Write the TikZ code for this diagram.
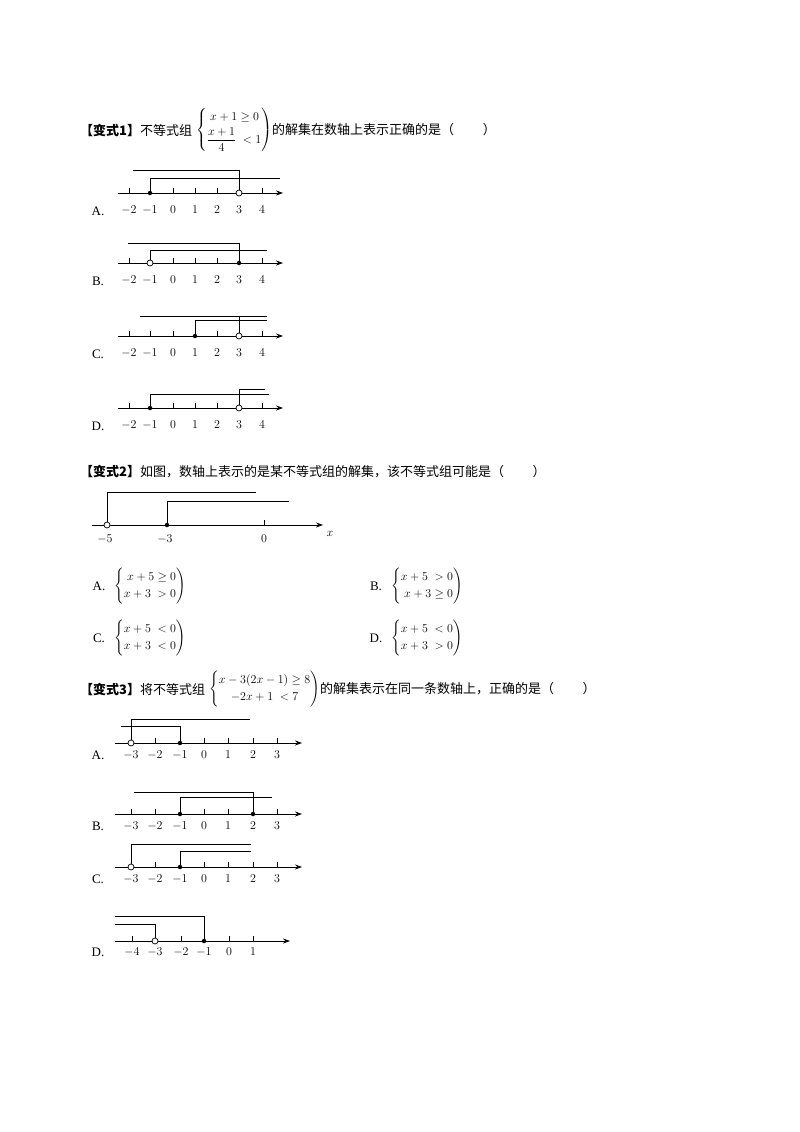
\documentclass[tikz,border=0pt]{standalone}
\usepackage{amsmath}
\usepackage{fontspec}
\usetikzlibrary{arrows.meta}
\setmainfont{Liberation Serif}
\newfontfamily\cjk{Noto Sans CJK SC}
\begin{document}
\begin{tikzpicture}[x=1pt,y=-1pt,font=\fontsize{13}{16}\selectfont,
  txt/.style={anchor=west,inner sep=0pt},
  lab/.style={inner sep=0pt},
  axisline/.style={line width=0.8pt,-{Stealth[length=7pt,width=5pt]}},
  seg/.style={line width=0.7pt},
  fdot/.style={circle,fill=black,inner sep=0pt,minimum size=4.5pt},
  odot/.style={circle,draw=black,fill=white,line width=0.7pt,inner sep=0pt,minimum size=6pt}]
\useasboundingbox[fill=white] (0,0) rectangle (800,1132);
% ---------- variant 1 ----------
\node[txt] (t1) at (80,130) {{\cjk\bfseries【变式1】}{\cjk 不等式组}};
\node[txt] (s1) at (196,130) {$\left\{\renewcommand{\arraystretch}{1.1}\begin{array}{@{}l@{}}\;x+1\geq 0\\[2pt] \dfrac{x+1}{4}\;<1\end{array}\right)$};
\node[txt] (t1b) at (s1.east) {\cjk 的解集在数轴上表示正确的是（\hspace{2.2em}）};
% number lines for variant 1
\newcommand{\nlA}[2]{% #1 axis y, #2 letter
  \node[lab] (L#2) at (98,#1+18) {#2.};
  \coordinate (a#2s) at (118,#1); \coordinate (a#2e) at (283,#1);
  \draw[axisline] (a#2s) -- (a#2e);
  \foreach \xx/\lb in {129/-2,150/-1,173/0,195/1,217/2,239/3,262/4}{
    \draw[line width=0.6pt] (\xx,#1) -- (\xx,#1-5);
    \node[lab] at (\xx,#1+17) {$\lb$};}
}
\nlA{193}{A}
\draw[seg] (239,193) -- (239,170) -- (133,170);
\draw[seg] (150,193) -- (150,178) -- (280,178);
\node[fdot] (A1) at (150,193) {}; \node[odot] (A3) at (239,193) {};
\nlA{263}{B}
\draw[seg] (239,263) -- (239,243) -- (128,243);
\draw[seg] (150,263) -- (150,250) -- (267,250);
\node[odot] (B1) at (150,263) {}; \node[fdot] (B3) at (239,263) {};
\nlA{336}{C}
\draw[seg] (140,316) -- (267,316);
\draw[seg] (195,336) -- (195,320) -- (267,320);
\draw[seg] (239,336) -- (239,316);
\node[fdot] (C1) at (195,336) {}; \node[odot] (C3) at (239,336) {};
\nlA{408}{D}
\draw[seg] (150,408) -- (150,394) -- (269,394);
\draw[seg] (239,408) -- (239,389) -- (265,389);
\node[fdot] (D1) at (150,408) {}; \node[odot] (D3) at (239,408) {};
% ---------- variant 2 ----------
\node[txt] (t2) at (80,472) {{\cjk\bfseries【变式2】}{\cjk 如图，数轴上表示的是某不等式组的解集，该不等式组可能是（\hspace{2.2em}）}};
\coordinate (v2s) at (92,525); \coordinate (v2e) at (323,525);
\draw[axisline] (v2s) -- (v2e);
\node[lab] (xl) at (330,534) {$x$};
\draw[line width=0.6pt] (264,525) -- (264,520);
\draw[seg] (107,525) -- (107,492) -- (256,492);
\draw[seg] (167,525) -- (167,501) -- (289,501);
\node[odot] (m5) at (107,525) {}; \node[fdot] (m3) at (167,525) {};
\node[lab] at (105,539) {$-5$}; \node[lab] at (165,539) {$-3$}; \node[lab] at (264,539) {$0$};
\newcommand{\sys}[2]{$\left\{\renewcommand{\arraystretch}{1.05}\begin{array}{@{}l@{}}#1\\#2\end{array}\right)$}
\node[lab] (oA) at (99,586) {A.};
\node[txt] (sA) at (114,586) {\sys{\;x+5\geq 0}{x+3\;>0}};
\node[lab] (oB) at (376,586) {B.};
\node[txt] (sB) at (391,586) {\sys{x+5\;>0}{\;x+3\geq 0}};
\node[lab] (oC) at (99,638) {C.};
\node[txt] (sC) at (114,638) {\sys{x+5\;<0}{x+3\;<0}};
\node[lab] (oD) at (376,638) {D.};
\node[txt] (sD) at (391,638) {\sys{x+5\;<0}{x+3\;>0}};
% ---------- variant 3 ----------
\node[txt] (t3) at (80,689) {{\cjk\bfseries【变式3】}{\cjk 将不等式组}};
\node[txt] (s3) at (209,689) {$\left\{\renewcommand{\arraystretch}{1.05}\begin{array}{@{}c@{}}x-3(2x-1)\geq 8\\ -2x+1\;<7\end{array}\right)$};
\node[txt] (t3b) at (s3.east) {\cjk 的解集表示在同一条数轴上，正确的是（\hspace{2.2em}）};
\newcommand{\nlB}[2]{%
  \node[lab] (M#2) at (98,#1+12) {#2.};
  \draw[axisline] (115,#1) -- (302,#1);
  \foreach \xx/\lb in {131/-3,155/-2,180/-1,204/0,228/1,253/2,277/3}{
    \draw[line width=0.6pt] (\xx,#1) -- (\xx,#1-5);
    \node[lab] at (\xx,#1+12) {$\lb$};}
}
\nlB{743}{A}
\draw[seg] (131,743) -- (131,719) -- (250,719);
\draw[seg] (121,726) -- (180,726) -- (180,743);
\node[odot] (q1) at (131,743) {}; \node[fdot] (q2) at (180,743) {};
\nlB{814}{B}
\draw[seg] (134,792) -- (253,792) -- (253,814);
\draw[seg] (180,814) -- (180,797) -- (272,797);
\node[fdot] (q3) at (180,814) {}; \node[fdot] (q4) at (253,814) {};
\nlB{867}{C}
\draw[seg] (131,867) -- (131,844) -- (251,844);
\draw[seg] (180,867) -- (180,851) -- (251,851);
\node[odot] (q5) at (131,867) {}; \node[fdot] (q6) at (180,867) {};
% D
\node[lab] (MD) at (98,952) {D.};
\draw[axisline] (115,941) -- (290,941);
\foreach \xx/\lb in {132/-4,155/-3,181/-2,204/-1,229/0,253/1}{
  \draw[line width=0.6pt] (\xx,941) -- (\xx,936);
  \node[lab] at (\xx,952) {$\lb$};}
\draw[seg] (115,916) -- (204,916) -- (204,941);
\draw[seg] (115,924) -- (155,924) -- (155,941);
\node[odot] (q7) at (155,941) {}; \node[fdot] (q8) at (204,941) {};
\end{tikzpicture}
\end{document}
